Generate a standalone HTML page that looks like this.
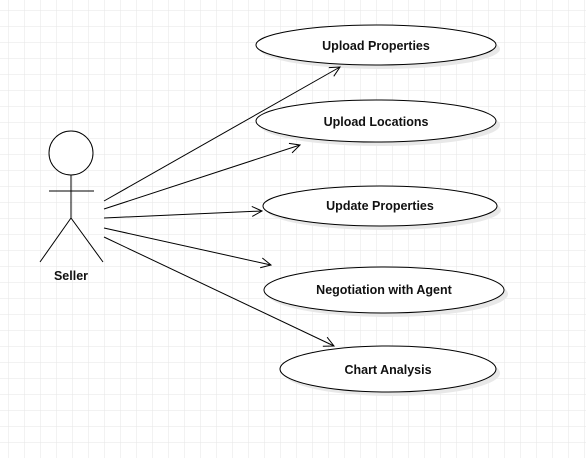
<!DOCTYPE html>
<html><head><style>
html,body{margin:0;padding:0;background:#fff}
svg{display:block}
text{font-family:"Liberation Sans",sans-serif;font-size:12.5px;font-weight:bold;fill:#111}
</style></head><body>
<svg width="586" height="458" xmlns="http://www.w3.org/2000/svg">
<defs>
<pattern id="g" x="8" y="10" width="16" height="16" patternUnits="userSpaceOnUse">
<path d="M0 0H16M0 0V16" stroke="#e6e6e6" stroke-width="1" fill="none"/>
</pattern>
<marker id="a" markerWidth="12" markerHeight="12" refX="11" refY="6" orient="auto" markerUnits="userSpaceOnUse">
<path d="M1 1L11 6L1 11" fill="none" stroke="#000" stroke-width="1"/>
</marker>
</defs>
<rect width="586" height="458" fill="url(#g)"/>
<g fill="#e8e8e8">
<ellipse cx="380" cy="49" rx="120" ry="20"/>
<ellipse cx="380" cy="125" rx="120" ry="21"/>
<ellipse cx="384" cy="210" rx="117" ry="20"/>
<ellipse cx="388" cy="294" rx="120" ry="23"/>
<ellipse cx="392" cy="373" rx="108" ry="23"/>
</g>
<g fill="#fff" stroke="#000" stroke-width="1">
<ellipse cx="376" cy="45" rx="120" ry="20"/>
<ellipse cx="376" cy="121" rx="120" ry="21"/>
<ellipse cx="380" cy="206" rx="117" ry="20"/>
<ellipse cx="384" cy="290" rx="120" ry="23"/>
<ellipse cx="388" cy="369" rx="108" ry="23"/>
<circle cx="71" cy="153" r="22"/>
</g>
<g stroke="#000" stroke-width="1" fill="none">
<path d="M71 175V218M49 191H94M71 218L40 262M71 218L103 262"/>
<line x1="104" y1="201" x2="340" y2="67" marker-end="url(#a)"/>
<line x1="104" y1="209" x2="300" y2="145" marker-end="url(#a)"/>
<line x1="104" y1="218" x2="262" y2="211" marker-end="url(#a)"/>
<line x1="104" y1="228" x2="271" y2="265" marker-end="url(#a)"/>
<line x1="104" y1="237" x2="334" y2="346" marker-end="url(#a)"/>
</g>
<g text-anchor="middle">
<text x="376" y="50">Upload Properties</text>
<text x="376" y="126">Upload Locations</text>
<text x="380" y="210">Update Properties</text>
<text x="384" y="294">Negotiation with Agent</text>
<text x="388" y="374">Chart Analysis</text>
<text x="71" y="280">Seller</text>
</g>
</svg>
</body></html>
